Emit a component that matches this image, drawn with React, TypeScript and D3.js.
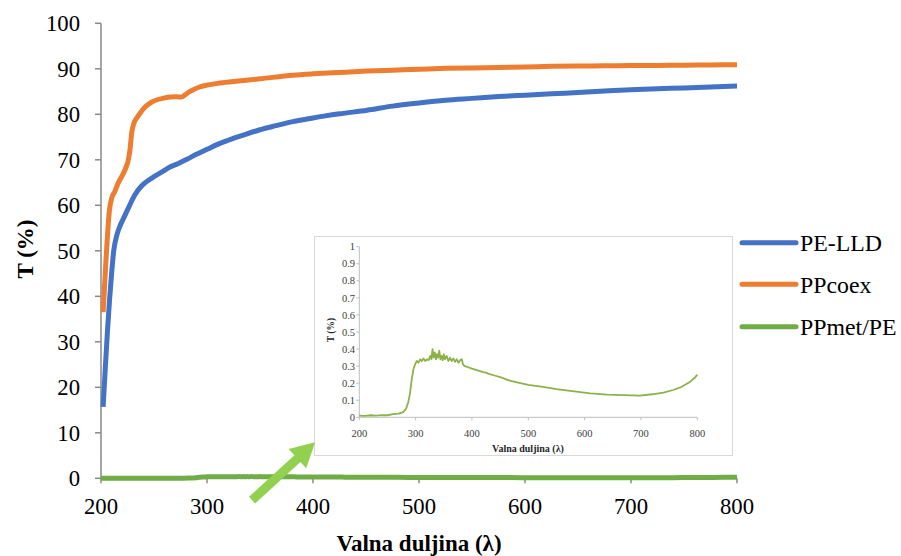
import React from 'react';
import * as d3 from 'd3';

const xTicks = [200, 300, 400, 500, 600, 700, 800];
const yTicks = [0, 10, 20, 30, 40, 50, 60, 70, 80, 90, 100];
const insetYTicks = [0, 0.1, 0.2, 0.3, 0.4, 0.5, 0.6, 0.7, 0.8, 0.9, 1];

const peLLD_x = [202,204,206,208,210,212,215,218,222,227,232,238,243,250,258,265,273,281,290,300,310,320,326,335,350,365,381,400,425,451,475,500,525,550,575,600,625,650,675,700,725,750,775,800];
const peLLD_y = [15.7,24,32,39,45,50,53.5,55.5,57.5,60,62.3,64.2,65.2,66.3,67.4,68.4,69.2,70.1,71.2,72.3,73.4,74.3,74.8,75.5,76.6,77.5,78.4,79.2,80.1,80.9,81.8,82.5,83.1,83.5,83.9,84.2,84.5,84.8,85.1,85.4,85.6,85.8,86.0,86.2];

const ppcoex_x = [202,204,206,208,210,213,216,219.5,223,226,227.5,229,231,234,237,240,243,248,253,260,265,271,276,279,283,288,293,300,310,325,350,381,400,425,451,475,500,525,550,575,600,625,650,675,700,725,750,775,800];
const ppcoex_y = [36.5,45,53,59,61.5,63,64.8,66.3,68,70.2,72.5,76,78,79.3,80.3,81.2,81.9,82.7,83.2,83.6,83.8,83.85,83.8,84.2,84.9,85.5,86.0,86.4,86.8,87.2,87.8,88.6,88.9,89.2,89.5,89.7,89.9,90.1,90.2,90.3,90.4,90.55,90.6,90.65,90.7,90.75,90.8,90.85,90.9];

const ppmet_x = [200,210,220,230,240,250,260,270,278,283,287,290,293,296,299,302,305,308,311,314,317,320,323,326,328,330,332,334,336,338,340,342,344,346,348,350,352,355,358,361,364,367,370,373,376,379,382,384,387,392,400,410,420,425,430,440,450,467,480,500,526,550,585,610,640,670,698,720,740,757,770,786,795,800];
const ppmet_y = [0.01,0.008,0.012,0.01,0.013,0.012,0.018,0.022,0.03,0.05,0.09,0.14,0.22,0.28,0.31,0.33,0.32,0.34,0.33,0.345,0.33,0.34,0.335,0.36,0.34,0.40,0.35,0.38,0.34,0.37,0.35,0.39,0.34,0.36,0.335,0.37,0.34,0.36,0.33,0.35,0.33,0.345,0.325,0.34,0.32,0.335,0.34,0.31,0.30,0.295,0.285,0.275,0.265,0.262,0.255,0.245,0.235,0.215,0.205,0.19,0.178,0.165,0.15,0.14,0.133,0.13,0.127,0.135,0.145,0.16,0.175,0.205,0.23,0.25];

const seriesNames = ['PE-LLD', 'PPcoex', 'PPmet/PE'];
const seriesColors = ['#4472C4', '#ED7D31', '#70AD47'];

const FONT = 'Liberation Serif';

export default function App() {
  const x = d3.scaleLinear().domain([200, 800]).range([101, 737]);
  const y = d3.scaleLinear().domain([0, 100]).range([478.3, 23.3]);
  const ix = d3.scaleLinear().domain([200, 800]).range([359.3, 697.3]);
  const iy = d3.scaleLinear().domain([0, 1]).range([417.3, 246.7]);

  const mainLine = d3.line<[number, number]>().x(d => x(d[0])).y(d => y(d[1])).curve(d3.curveMonotoneX);
  const insetLine = d3.line<[number, number]>().x(d => ix(d[0])).y(d => iy(d[1]));

  const zip = (a: number[], b: number[]) => a.map((v, i) => [v, b[i]] as [number, number]);
  const blue = mainLine(zip(peLLD_x, peLLD_y)) || '';
  const orange = mainLine(zip(ppcoex_x, ppcoex_y)) || '';
  const green = mainLine(zip(ppmet_x, ppmet_y)) || '';
  const greenInset = insetLine(zip(ppmet_x, ppmet_y)) || '';

  const tail: [number, number] = [x(342.5), y(-4.8)];
  const tip: [number, number] = [x(402), y(7.9)];
  const dx = tip[0] - tail[0], dy = tip[1] - tail[1];
  const len = Math.hypot(dx, dy);
  const ux = dx / len, uy = dy / len;
  const px = -uy, py = ux;
  const headLen = 24, headW = 13, shaftW = 4.5;
  const bx = tip[0] - ux * headLen, by = tip[1] - uy * headLen;
  const arrowPts = [
    [tail[0] + px * shaftW, tail[1] + py * shaftW],
    [bx + px * shaftW, by + py * shaftW],
    [bx + px * headW, by + py * headW],
    tip,
    [bx - px * headW, by - py * headW],
    [bx - px * shaftW, by - py * shaftW],
    [tail[0] - px * shaftW, tail[1] - py * shaftW],
  ].map(p => p.join(',')).join(' ');

  const legendY = [242.7, 284.3, 326.7];
  const ts = { fontFamily: FONT };

  return (
    <svg width={901} height={556} style={{ position: 'absolute', left: 0, top: 0, background: '#fff' }}>
      <line x1={x(200)} x2={x(800)} y1={y(0)} y2={y(0)} stroke="#898989" strokeWidth={1.5} />
      <line x1={x(200)} x2={x(200)} y1={y(0)} y2={y(100)} stroke="#898989" strokeWidth={1.5} />
      {yTicks.map(t => (
        <g key={'yt' + t}>
          <line x1={x(200) - 6} x2={x(200)} y1={y(t)} y2={y(t)} stroke="#898989" strokeWidth={1.5} />
          <text style={ts} x={80} y={y(t)} dy="0.35em" textAnchor="end" fontSize={22.7} fill="#000">{t}</text>
        </g>
      ))}
      {xTicks.map(t => (
        <g key={'xt' + t}>
          <line x1={x(t)} x2={x(t)} y1={y(0)} y2={y(0) + 5} stroke="#898989" strokeWidth={1.5} />
          <text style={ts} x={x(t)} y={514} textAnchor="middle" fontSize={22.7} fill="#000">{t}</text>
        </g>
      ))}
      <text style={ts} x={419} y={551} textAnchor="middle" fontSize={23} fontWeight="bold">Valna duljina (λ)</text>
      <text style={ts} transform={`translate(33,249) rotate(-90)`} textAnchor="middle" fontSize={23} fontWeight="bold">T (%)</text>

      <path d={blue} fill="none" stroke={seriesColors[0]} strokeWidth={5} strokeLinejoin="round" />
      <path d={orange} fill="none" stroke={seriesColors[1]} strokeWidth={5} strokeLinejoin="round" />
      <path d={green} fill="none" stroke={seriesColors[2]} strokeWidth={5} strokeLinejoin="round" />

      <rect x={314.5} y={236.5} width={418} height={219} fill="#fff" stroke="#d9d9d9" strokeWidth={1} />
      <line x1={ix(200)} x2={ix(800)} y1={iy(0)} y2={iy(0)} stroke="#bfbfbf" strokeWidth={1} />
      <line x1={ix(200)} x2={ix(200)} y1={iy(0)} y2={iy(1)} stroke="#bfbfbf" strokeWidth={1} />
      {insetYTicks.map(t => (
        <g key={'iyt' + t}>
          <line x1={ix(200) - 3} x2={ix(200)} y1={iy(t)} y2={iy(t)} stroke="#bfbfbf" strokeWidth={1} />
          <text style={ts} x={355} y={iy(t)} dy="0.35em" textAnchor="end" fontSize={10.5} fill="#404040">{t}</text>
        </g>
      ))}
      {xTicks.map(t => (
        <g key={'ixt' + t}>
          <line x1={ix(t)} x2={ix(t)} y1={iy(0)} y2={iy(0) + 3} stroke="#bfbfbf" strokeWidth={1} />
          <text style={ts} x={ix(t)} y={436.5} textAnchor="middle" fontSize={10.5} fill="#404040">{t}</text>
        </g>
      ))}
      <text style={ts} x={528} y={452} textAnchor="middle" fontSize={10} fontWeight="bold" fill="#262626">Valna duljina (λ)</text>
      <text style={ts} transform={`translate(334,330) rotate(-90)`} textAnchor="middle" fontSize={9.5} fontWeight="bold" fill="#262626">T (%)</text>
      <path d={greenInset} fill="none" stroke="#8DB24A" strokeWidth={1.8} strokeLinejoin="round" />

      <polygon points={arrowPts} fill="#92D050" />

      {seriesNames.map((n, i) => (
        <g key={n}>
          <line x1={742} x2={796} y1={legendY[i]} y2={legendY[i]} stroke={seriesColors[i]} strokeWidth={5} strokeLinecap="round" />
          <text style={ts} x={800} y={legendY[i]} dy="0.35em" fontSize={23.8} fill="#000">{n}</text>
        </g>
      ))}
    </svg>
  );
}
